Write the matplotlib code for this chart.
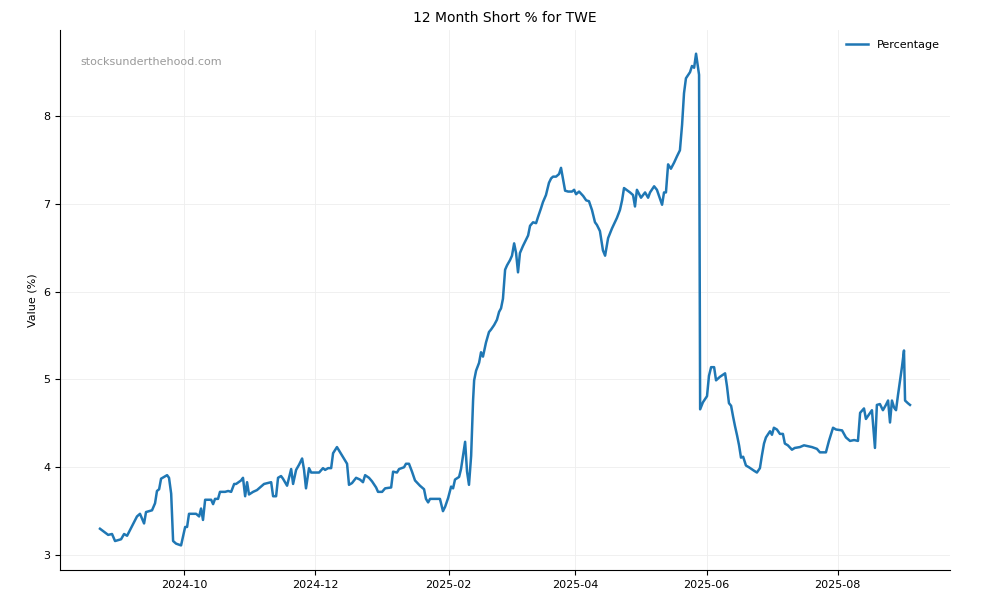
import matplotlib
matplotlib.use("Agg")
import matplotlib.pyplot as plt
import matplotlib.dates as mdates
import pandas as pd

start = pd.Timestamp("2024-10-01")
day_offsets = [-39.1,-35.3,-33.5,-32.1,-29.3,-27.9,-26.5,-21.9,-20.5,-18.6,-17.7,-14.9,-13.5,-12.6,-11.6,-10.7,-7.9,-7.0,-6.0,-5.1,-3.7,-1.4,0.5,1.4,2.3,5.6,7.0,7.9,8.8,9.8,12.6,13.5,14.4,15.8,16.7,19.1,20.5,21.9,23.3,24.2,26.5,27.4,28.4,29.3,30.2,32.1,33.9,35.8,37.2,40.5,41.4,42.8,43.7,45.1,46.0,47.9,49.8,50.7,52.1,53.5,54.9,55.8,56.7,58.1,59.1,62.8,64.6,65.6,67.0,68.4,69.3,71.1,75.8,76.7,78.1,80.0,81.8,83.2,84.2,86.0,87.4,89.3,90.2,92.1,93.5,96.3,97.2,99.0,100.0,102.3,103.2,104.6,106.0,107.4,109.7,111.6,112.5,113.5,114.4,119.0,120.4,121.4,122.8,124.2,125.1,126.0,127.9,128.8,129.7,130.7,131.6,132.5,133.5,134.4,134.9,135.8,137.2,138.1,139.0,140.4,141.8,142.8,144.2,145.5,146.5,147.4,148.3,149.3,150.2,151.6,152.5,153.5,154.4,155.3,156.2,157.6,160.0,160.9,162.3,163.7,164.6,166.0,166.9,168.3,169.7,170.7,171.6,173.0,174.4,175.3,176.3,177.2,178.6,180.4,181.4,182.3,183.7,185.6,187.0,188.3,189.7,191.1,192.0,193.4,194.8,195.8,197.2,199.0,201.3,202.7,203.7,204.6,207.4,208.8,209.7,210.6,212.5,214.4,215.8,216.7,218.6,219.9,221.3,222.3,223.2,224.1,225.1,226.4,227.9,229.2,230.6,231.6,232.5,233.4,235.3,236.2,237.2,238.1,239.5,240.0,241.3,243.2,244.1,245.1,246.5,247.4,249.2,251.6,252.5,253.4,254.4,255.3,256.2,257.2,258.1,259.0,260.0,261.3,262.7,265.1,266.4,267.8,268.7,269.7,270.6,272.5,273.4,274.3,275.7,277.1,278.5,279.4,280.8,282.7,284.0,286.4,288.3,290.2,292.0,294.3,295.7,298.5,299.9,301.8,303.2,306.0,307.8,309.7,311.6,313.4,314.4,316.2,317.1,318.5,319.9,321.3,322.2,323.6,325.0,326.4,327.4,328.3,329.2,330.2,331.1,332.0,333.0,333.9,334.8,335.3,336.6,337.6]
percentage = [3.30,3.23,3.24,3.16,3.18,3.24,3.22,3.44,3.47,3.36,3.49,3.51,3.59,3.73,3.75,3.87,3.91,3.88,3.70,3.16,3.13,3.11,3.32,3.32,3.47,3.47,3.44,3.53,3.40,3.63,3.63,3.58,3.64,3.64,3.72,3.72,3.73,3.72,3.81,3.81,3.85,3.88,3.67,3.83,3.69,3.72,3.74,3.78,3.81,3.83,3.67,3.67,3.88,3.90,3.87,3.79,3.98,3.81,3.97,4.03,4.10,3.97,3.76,3.99,3.94,3.94,3.99,3.97,3.99,3.99,4.16,4.23,4.04,3.80,3.82,3.88,3.86,3.83,3.91,3.88,3.84,3.77,3.72,3.72,3.76,3.77,3.95,3.94,3.98,4.00,4.04,4.04,3.95,3.85,3.79,3.75,3.64,3.60,3.64,3.64,3.50,3.55,3.65,3.78,3.76,3.86,3.89,3.98,4.13,4.29,3.95,3.80,4.13,4.76,4.99,5.10,5.19,5.31,5.26,5.42,5.54,5.57,5.62,5.68,5.77,5.81,5.92,6.25,6.30,6.36,6.41,6.55,6.44,6.22,6.44,6.52,6.64,6.75,6.79,6.78,6.85,6.95,7.02,7.10,7.24,7.29,7.31,7.31,7.34,7.41,7.27,7.15,7.14,7.14,7.16,7.11,7.14,7.09,7.04,7.03,6.93,6.79,6.76,6.69,6.47,6.41,6.61,6.72,6.84,6.93,7.04,7.18,7.13,7.10,6.97,7.16,7.07,7.13,7.07,7.13,7.20,7.16,7.06,6.99,7.13,7.13,7.45,7.40,7.47,7.54,7.61,7.90,8.26,8.43,8.50,8.57,8.55,8.71,8.47,4.66,4.74,4.81,5.04,5.14,5.14,4.99,5.03,5.07,4.92,4.73,4.70,4.58,4.47,4.36,4.25,4.11,4.12,4.02,4.00,3.96,3.94,3.99,4.13,4.27,4.34,4.41,4.37,4.45,4.43,4.38,4.38,4.27,4.25,4.20,4.22,4.23,4.25,4.24,4.23,4.21,4.17,4.17,4.30,4.45,4.43,4.42,4.34,4.30,4.31,4.30,4.62,4.67,4.55,4.60,4.65,4.22,4.71,4.72,4.65,4.71,4.76,4.51,4.76,4.68,4.65,4.82,4.99,5.15,5.33,4.76,4.73,4.71]

dates = start + pd.to_timedelta(day_offsets, unit="D")

fig = plt.figure(figsize=(10, 6), dpi=100)
ax = fig.add_axes([0.06, 0.05, 0.89, 0.9])
ax.plot(dates, percentage, color="#1f77b4", linewidth=1.8, label="Percentage")
ax.set_xlim(start + pd.Timedelta(days=-57.7), start + pd.Timedelta(days=356.2))
ax.set_ylim(2.83, 8.98)
ax.xaxis.set_major_locator(mdates.MonthLocator(bymonth=[2, 4, 6, 8, 10, 12]))
ax.xaxis.set_major_formatter(mdates.DateFormatter("%Y-%m"))
ax.set_yticks([3, 4, 5, 6, 7, 8])
ax.tick_params(labelsize=8)
ax.grid(True, color="#eeeeee", linewidth=0.6)
ax.spines["top"].set_visible(False)
ax.spines["right"].set_visible(False)
ax.set_ylabel("Value (%)", fontsize=8)
ax.set_title("12 Month Short % for TWE", fontsize=10)
ax.text(0.023, 0.935, "stocksunderthehood.com", transform=ax.transAxes, fontsize=8, color="#999999")
ax.legend(loc="upper right", fontsize=8, frameon=False)
fig.savefig("out.png", dpi=100)
